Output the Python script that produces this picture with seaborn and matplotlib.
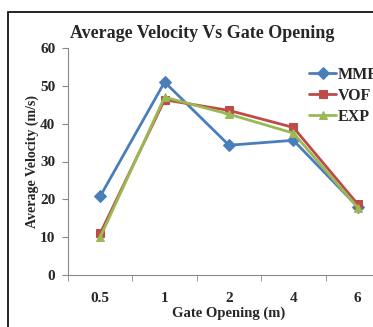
import matplotlib
matplotlib.use('Agg')
import matplotlib.pyplot as plt
import seaborn as sns
import pandas as pd
from matplotlib.patches import Rectangle

# Data
gate_opening = ['0.5', '1', '2', '4', '6']
mmf = [20.8, 51.0, 34.3, 35.6, 18.0]
vof = [11.0, 46.3, 43.5, 39.0, 18.7]
exp = [10.0, 47.0, 42.5, 37.5, 17.8]

series = ['MMF', 'VOF', 'EXP']
colors = ['#4a7ebb', '#be4b48', '#98b954']
markers = ['D', 's', '^']
sizes = [6, 7, 8]

df = pd.DataFrame({'Gate': gate_opening * 3,
                   'Velocity': mmf + vof + exp,
                   'Series': sum([[s] * len(gate_opening) for s in series], [])})
df['pos'] = df['Gate'].map({g: i for i, g in enumerate(gate_opening)})

sns.set_style('white')
plt.rcParams['font.family'] = ['Liberation Serif', 'DejaVu Serif']
plt.rcParams['font.weight'] = 'bold'

W, H = 373, 327
fig = plt.figure(figsize=(W / 100, H / 100), dpi=100)
ax = fig.add_axes([68 / W, 1 - 275 / H, 322 / W, 227 / H])

for s, c, m, ms in zip(series, colors, markers, sizes):
    sub = df[df['Series'] == s]
    sns.lineplot(data=sub, x='pos', y='Velocity', ax=ax, color=c, marker=m,
                 markersize=ms, markeredgecolor=c, linewidth=2, label=s,
                 legend=False)

ax.set_xlim(-0.5, 4.5)
ax.set_ylim(0, 60)
ax.set_yticks(range(0, 61, 10))
ax.set_xticks(range(len(gate_opening)))
ax.set_xticklabels(gate_opening)
ax.set_xticks([i - 0.5 for i in range(len(gate_opening) + 1)], minor=True)
ax.tick_params(axis='x', which='major', length=0, pad=12, labelsize=11)
ax.tick_params(axis='x', which='minor', length=4, color='#888888', direction='out')
ax.tick_params(axis='y', length=4, color='#888888', direction='out', labelsize=11, pad=5)
ax.xaxis.set_ticks_position('bottom')
ax.yaxis.set_ticks_position('left')
for sp in ['top', 'right']:
    ax.spines[sp].set_visible(False)
for sp in ['left', 'bottom']:
    ax.spines[sp].set_color('#888888')
    ax.spines[sp].set_linewidth(0.8)

ax.set_xlabel('Gate Opening (m)', fontsize=10.5, fontweight='bold', labelpad=1)
ax.set_ylabel('Average Velocity (m/s)', fontsize=10, fontweight='bold', labelpad=1)
fig.text(202 / W, 1 - 34 / H, 'Average Velocity Vs Gate Opening', ha='center',
         va='center', fontsize=13, fontweight='bold')

handles, labels = ax.get_legend_handles_labels()
for h in handles:
    h.set_markersize(6)
fig.legend(handles, labels, loc='upper left', bbox_to_anchor=(309 / W, 1 - 67 / H),
           frameon=False, fontsize=11.5, handlelength=1.7, handletextpad=0.1,
           labelspacing=0.3, borderaxespad=0, borderpad=0)

fig.patches.append(Rectangle((8 / W, -0.05), 1.2, 1 - 12 / H + 0.05,
                             transform=fig.transFigure, fill=False,
                             edgecolor='black', linewidth=1.2))

fig.savefig('out.png', dpi=100)
